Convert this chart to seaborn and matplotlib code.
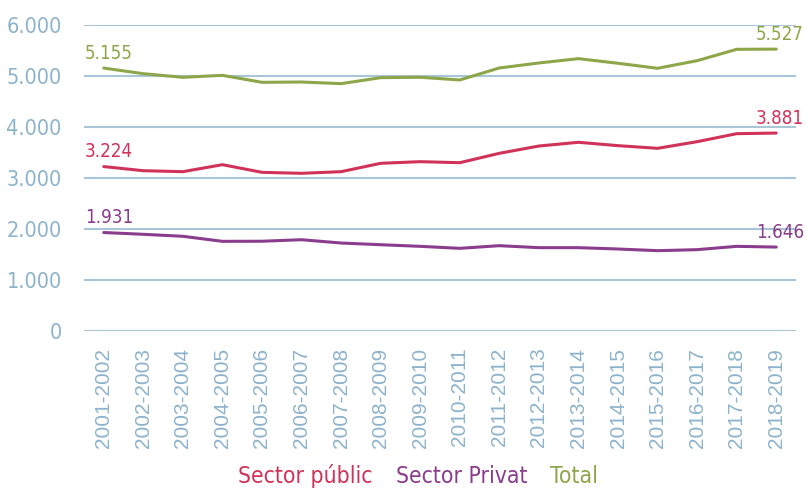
import pandas as pd
import matplotlib.pyplot as plt
import seaborn as sns

cursos = ["2001-2002", "2002-2003", "2003-2004", "2004-2005", "2005-2006", "2006-2007",
          "2007-2008", "2008-2009", "2009-2010", "2010-2011", "2011-2012", "2012-2013",
          "2013-2014", "2014-2015", "2015-2016", "2016-2017", "2017-2018", "2018-2019"]
sector_public = [3224, 3143, 3124, 3261, 3111, 3092, 3124, 3288, 3320, 3300,
                 3484, 3627, 3700, 3634, 3582, 3712, 3869, 3881]
sector_privat = [1931, 1896, 1857, 1758, 1760, 1790, 1725, 1692, 1660, 1621,
                 1673, 1634, 1634, 1608, 1575, 1595, 1660, 1646]
total = [5155, 5045, 4974, 5013, 4876, 4882, 4850, 4967, 4975, 4922,
         5157, 5255, 5340, 5249, 5151, 5300, 5523, 5527]

series = ["Sector públic", "Sector Privat", "Total"]
colors = {"Sector públic": "#d0325a", "Sector Privat": "#8a3d8c", "Total": "#8ea64a"}

df = pd.DataFrame({
    "curs": cursos * 3,
    "valor": sector_public + sector_privat + total,
    "serie": [s for s in series for _ in cursos],
})

sns.set_style("white")
plt.rcParams["font.family"] = ["DejaVu Sans"]
plt.rcParams["font.stretch"] = "condensed"

tick_col = "#8db3cc"
fig = plt.figure(figsize=(8.06, 4.88), dpi=100)
ax = fig.add_axes([0.1042, 0.3217, 0.8834, 0.6271])

sns.lineplot(data=df, x="curs", y="valor", hue="serie", hue_order=series,
             palette=colors, linewidth=2.2, ax=ax)

ax.set_xlim(-0.5, len(cursos) - 0.5)
ax.set_ylim(0, 6000)
ax.set_yticks(range(0, 6001, 1000))
ax.set_yticklabels([f"{v:,}".replace(",", ".") for v in range(0, 6001, 1000)],
                   fontsize=15.5, color=tick_col)
ax.set_xticks(range(len(cursos)))
ax.set_xticklabels(cursos, rotation=90, fontsize=15, color=tick_col,
                   family=["Liberation Sans", "DejaVu Sans"], stretch="normal")
ax.tick_params(axis="x", length=0, pad=12)
ax.tick_params(axis="y", length=0, pad=16)
ax.grid(axis="y", color="#a9c6d8", linewidth=1.5)
ax.set_axisbelow(True)
for sp in ax.spines.values():
    sp.set_visible(False)
ax.set_xlabel("")
ax.set_ylabel("")

# first and last values
for vals, s in zip([sector_public, sector_privat, total], series):
    for i, dx in [(0, 5), (len(cursos) - 1, 4)]:
        ax.annotate(f"{vals[i]:,}".replace(",", "."), (i, vals[i]),
                    xytext=(dx, 15), textcoords="offset pixels",
                    ha="center", va="center", fontsize=13.5, color=colors[s])

leg = ax.legend(loc="center", bbox_to_anchor=(0.519, 0.025),
                bbox_transform=fig.transFigure, ncol=3, frameon=False,
                handlelength=0, handletextpad=0, columnspacing=1.0,
                fontsize=16.5, labelcolor="linecolor")
for h in leg.legend_handles:
    h.set_visible(False)

fig.savefig("out.png", dpi=100)
